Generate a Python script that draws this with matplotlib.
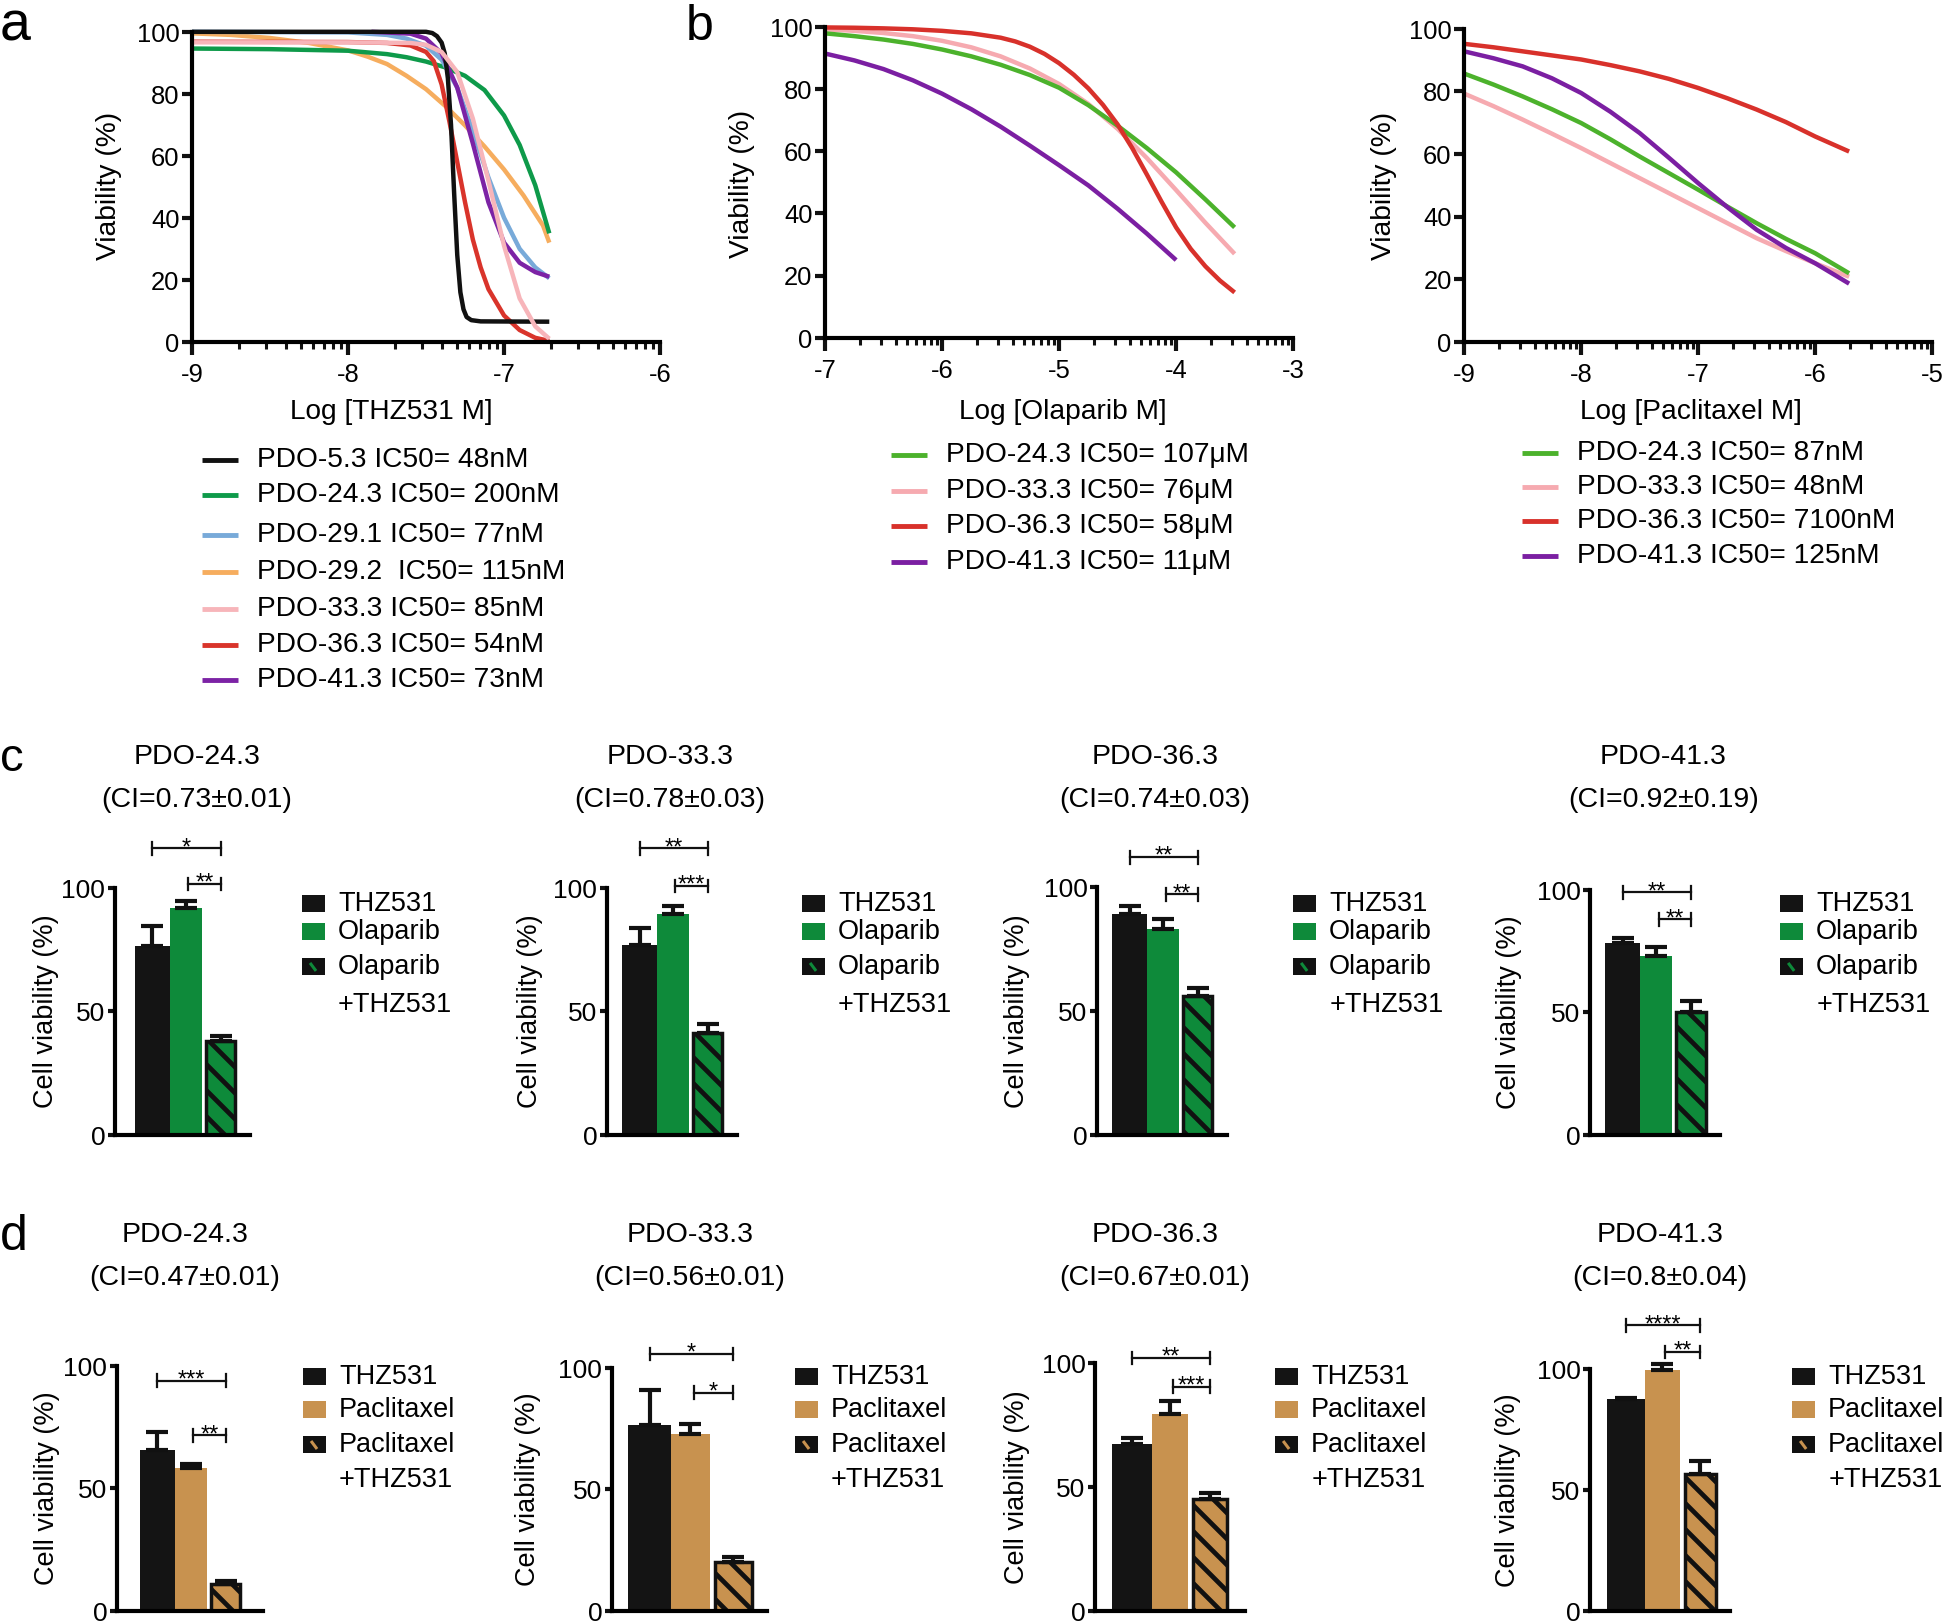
import matplotlib
matplotlib.use('Agg')
import matplotlib.pyplot as plt
from matplotlib.patches import Rectangle
import numpy as np

plt.rcParams['font.family'] = ['Liberation Sans', 'DejaVu Sans']

W, H = 1945, 1624
DPI = 78            # low dpi so the '\\' hatch gets a ~13 px stripe pitch
S = 100 / DPI       # sizes below are written for 100 dpi, scaled here
plt.rcParams['hatch.linewidth'] = 3.4 * S

# ---------- a: THZ531 dose-response (log M vs viability %) ----------
thz_labels = ['PDO-5.3 IC50= 48nM', 'PDO-24.3 IC50= 200nM', 'PDO-29.1 IC50= 77nM',
              'PDO-29.2  IC50= 115nM', 'PDO-33.3 IC50= 85nM', 'PDO-36.3 IC50= 54nM',
              'PDO-41.3 IC50= 73nM']
thz_colors = ['#111111', '#0e9a4a', '#78aad9', '#f6ad5e', '#f7b5ba', '#d9342b', '#7c23a5']
thz_x = [
    [-9, -7.5, -7.46, -7.43, -7.4, -7.38, -7.36, -7.34, -7.32, -7.3, -7.28, -7.26, -7.24, -7.21, -7.15, -6.71],
    [-9, -8.5, -8, -7.75, -7.625, -7.5, -7.375, -7.25, -7.125, -7.0, -6.9, -6.8, -6.71],
    [-9, -8, -7.75, -7.625, -7.5, -7.4, -7.3, -7.2, -7.1, -7.0, -6.9, -6.8, -6.71],
    [-9, -8.75, -8.5, -8.25, -8, -7.875, -7.75, -7.625, -7.5, -7.375, -7.25, -7.125, -7.0, -6.875, -6.75, -6.71],
    [-9, -8, -7.6, -7.5, -7.4, -7.3, -7.2, -7.1, -7.0, -6.9, -6.8, -6.71],
    [-9, -8, -7.75, -7.6, -7.5, -7.45, -7.4, -7.35, -7.3, -7.25, -7.2, -7.15, -7.1, -7.0, -6.9, -6.8, -6.71],
    [-7.85, -7.6, -7.5, -7.4, -7.3, -7.2, -7.1, -7.0, -6.9, -6.8, -6.71],
]
thz_y = [
    [100, 100, 99.6, 98.6, 96.5, 93, 85, 70, 48, 28, 16, 10.5, 8, 7, 6.6, 6.5],
    [94.6, 94.4, 93.9, 92.8, 91.8, 90.4, 88.5, 85.8, 81.2, 73.0, 63.5, 50.5, 35],
    [100, 99.8, 99, 97.8, 95.5, 91, 82, 68, 53, 40, 30, 24, 20.5],
    [99.5, 99.0, 98.0, 96.4, 94.0, 92.0, 89.6, 85.8, 81.5, 76.0, 69.8, 63.0, 55.6, 47.2, 37.5, 32],
    [96.6, 96.6, 96.4, 95.8, 93.5, 87, 72, 52, 31, 14, 5, 1],
    [96.8, 96.7, 96.4, 95.6, 93.5, 90.5, 83, 71, 58, 45, 33, 24, 17, 8.5, 3.8, 1.3, 0.3],
    [100, 99.4, 97.8, 93, 82, 64, 45, 32, 25.5, 22.5, 21],
]
thz_order = [3, 1, 2, 6, 5, 0, 4]

# ---------- b: Olaparib ----------
ola_labels = ['PDO-24.3 IC50= 107μM', 'PDO-33.3 IC50= 76μM', 'PDO-36.3 IC50= 58μM',
              'PDO-41.3 IC50= 11μM']
ola_colors = ['#4cb22c', '#f6aab0', '#d8312b', '#7b1fa2']
ola_grid = [-7, -6.75, -6.5, -6.25, -6, -5.75, -5.5, -5.25, -5, -4.75, -4.5, -4.25, -4, -3.75, -3.5]
ola_red_x = [-7, -6.75, -6.5, -6.25, -6, -5.75, -5.5, -5.375, -5.25, -5.125, -5, -4.875,
             -4.75, -4.625, -4.5, -4.375, -4.25, -4.125, -4, -3.875, -3.75, -3.625, -3.5]
ola_x = [ola_grid, ola_grid, ola_red_x, ola_grid[:13]]
ola_y = [
    [97.9, 97.0, 95.9, 94.5, 92.7, 90.5, 87.8, 84.5, 80.4, 74.8, 68.2, 61.0, 53.2, 44.5, 35.5],
    [99.2, 98.7, 98.0, 97.0, 95.5, 93.4, 90.5, 86.6, 81.6, 75.2, 67.2, 57.8, 47.5, 37.0, 27.0],
    [99.8, 99.7, 99.5, 99.2, 98.7, 97.9, 96.5, 95.3, 93.6, 91.3, 88.3, 84.6, 80.2, 74.9,
     68.6, 61.0, 52.5, 43.8, 35.5, 28.6, 23.0, 18.4, 14.6],
    [91.4, 89.2, 86.4, 82.8, 78.5, 73.5, 67.9, 61.8, 55.5, 49.0, 41.5, 33.5, 25.0],
]

# ---------- b: Paclitaxel ----------
pac_labels = ['PDO-24.3 IC50= 87nM', 'PDO-33.3 IC50= 48nM', 'PDO-36.3 IC50= 7100nM',
              'PDO-41.3 IC50= 125nM']
pac_colors = ['#4cb22c', '#f6aab0', '#d8312b', '#7b1fa2']
pac_grid = [-9, -8.75, -8.5, -8.25, -8, -7.75, -7.5, -7.25, -7, -6.75, -6.5, -6.25, -6, -5.71]
pac_x = [pac_grid] * 4
pac_y = [
    [85.7, 82.2, 78.4, 74.3, 69.9, 64.7, 59.2, 53.9, 48.6, 43.2, 37.9, 32.9, 28.3, 21.9],
    [79.3, 75.3, 71, 66.5, 61.9, 57.1, 52.3, 47.5, 42.7, 37.9, 33.1, 29, 25.1, 20.8],
    [95.2, 94.1, 92.8, 91.5, 90.2, 88.4, 86.4, 84, 81.1, 77.8, 74.2, 70.2, 65.6, 60.8],
    [92.8, 90.6, 88, 84.2, 79.5, 73.5, 66.7, 58.8, 50.7, 43, 35.8, 30, 25.1, 18.6],
]

# ---------- c / d: combination bars ----------
pdo_names = ['PDO-24.3', 'PDO-33.3', 'PDO-36.3', 'PDO-41.3']
c_ci = ['(CI=0.73±0.01)', '(CI=0.78±0.03)', '(CI=0.74±0.03)', '(CI=0.92±0.19)']
c_mean = [[76.5, 91.9, 38.1], [76.9, 89.5, 41.3], [89.1, 83.1, 56.0], [78.4, 73.1, 50.2]]
c_err = [[8.1, 2.8, 1.9], [6.9, 3.2, 3.6], [3.2, 4.0, 3.3], [2.0, 3.6, 4.5]]
c_sig_long = ['*', '**', '**', '**']
c_sig_long_y = [116, 116, 112, 99]
c_sig_short = ['**', '***', '**', '**']
c_sig_short_y = [101.6, 100.8, 97, 88]
c_groups = ['THZ531', 'Olaparib', 'Olaparib', '+THZ531']

d_ci = ['(CI=0.47±0.01)', '(CI=0.56±0.01)', '(CI=0.67±0.01)', '(CI=0.8±0.04)']
d_mean = [[65.6, 58.3, 10.9], [76.7, 72.7, 20.0], [67.2, 79.6, 45.2], [87.7, 99.6, 56.6]]
d_err = [[7.3, 1.6, 1.2], [14.3, 4.4, 2.4], [2.4, 5.2, 2.4], [0.3, 2.4, 5.4]]
d_sig_long = ['***', '*', '**', '****']
d_sig_long_y = [94, 105.7, 102, 118]
d_sig_short = ['**', '*', '***', '**']
d_sig_short_y = [71.7, 89.8, 90.4, 107]
d_groups = ['THZ531', 'Paclitaxel', 'Paclitaxel', '+THZ531']

green_bar = '#0e8a3a'
tan_bar = '#c8924f'
black_bar = '#141414'

fig = plt.figure(figsize=((W + 0.2) / DPI, (H + 0.2) / DPI), dpi=DPI)


def add_ax(l, t, r, b):
    return fig.add_axes([l / W, 1 - b / H, (r - l) / W, (b - t) / H])


def ftext(x, y, s, size, **kw):
    fig.text(x / W, 1 - y / H, s, fontsize=size * S, **kw)


def fline(x0, y0, x1, y1, color, lw):
    fig.add_artist(plt.Line2D([x0 / W, x1 / W], [1 - y0 / H, 1 - y1 / H], color=color,
                              lw=lw * S, transform=fig.transFigure, solid_capstyle='butt'))


def base_style(ax, labelsize=18.5):
    for s in ['top', 'right']:
        ax.spines[s].set_visible(False)
    for s in ['left', 'bottom']:
        ax.spines[s].set_linewidth(3 * S)
        ax.spines[s].set_capstyle('projecting')
    ax.tick_params(which='major', length=7 * S, width=3 * S, labelsize=labelsize * S,
                   pad=2 * S, color='#111111')
    ax.tick_params(which='minor', length=5 * S, width=2.2 * S, color='#111111')


def curve_panel(frame, xlo, xhi, xs, ys, colors, labels, xlabel, xlab_pos, ylab_pos,
                leg_x, leg_rows, order):
    ax = add_ax(*frame)
    base_style(ax)
    for i in order:
        ax.plot(xs[i], ys[i], color=colors[i], lw=3.2 * S, clip_on=False,
                solid_capstyle='butt', solid_joinstyle='round')
    ax.set_xlim(xlo, xhi)
    ax.set_ylim(0, 100)
    ax.set_xticks(range(xlo, xhi + 1))
    ax.set_xticklabels([str(v) for v in range(xlo, xhi + 1)])
    minors = [d + np.log10(k) for d in range(xlo, xhi) for k in range(2, 10)]
    ax.set_xticks(minors, minor=True)
    ax.set_yticks(range(0, 101, 20))
    ax.tick_params(axis='x', which='major', length=9 * S, pad=6 * S)
    ftext(xlab_pos[0], xlab_pos[1], xlabel, 20.3, ha='center', va='center')
    ftext(ylab_pos[0], ylab_pos[1], 'Viability (%)', 20.3, ha='center', va='center',
          rotation=90)
    for i, (lab, yy) in enumerate(zip(labels, leg_rows)):
        fline(leg_x, yy, leg_x + 36, yy, colors[i], 3.5)
        ftext(leg_x + 55, yy, lab, 20.3, ha='left', va='center')
    return ax


# panel a
curve_panel((192, 32, 660, 342), -9, -6, thz_x, thz_y, thz_colors, thz_labels,
            'Log [THZ531 M]', (391, 412), (109, 186), 202,
            [460, 495, 535, 572, 609, 645, 680], thz_order)
# panel b (olaparib / paclitaxel)
curve_panel((825, 27, 1293, 338), -7, -3, ola_x, ola_y, ola_colors, ola_labels,
            'Log [Olaparib M]', (1063, 412), (742, 184), 891, [455, 491, 526, 562],
            [1, 0, 3, 2])
curve_panel((1464, 29, 1932, 342), -9, -5, pac_x, pac_y, pac_colors, pac_labels,
            'Log [Paclitaxel M]', (1691, 412), (1384, 186), 1522, [453, 487, 521, 556],
            [1, 0, 3, 2])


def bar_panel(frame, xlim, means, errs, color, sig_long, sy_long, sig_short, sy_short,
              title, ci, title_x, title_rows, ylab_x, leg_x, leg_rows, groups):
    ax = add_ax(*frame)
    base_style(ax, labelsize=19)
    ax.tick_params(which='major', length=5 * S)
    pos = [0, 1.0, 2.05]
    widths = [1.05, 0.95, 0.88]
    ax.bar(pos[0], means[0], width=widths[0], color=black_bar, zorder=2)
    ax.bar(pos[1], means[1], width=widths[1], color=color, zorder=2)
    ax.bar(pos[2], means[2], width=widths[2], color=color, edgecolor='#111111',
           linewidth=2.5 * S, hatch='\\', zorder=2)
    ax.errorbar(pos, means, yerr=[[0, 0, 0], errs], fmt='none', ecolor='#111111',
                elinewidth=3 * S, capsize=8 * S, capthick=3 * S, zorder=3, clip_on=False)
    ax.set_xlim(*xlim)
    ax.set_ylim(0, 100)
    ax.set_xticks([])
    ax.set_yticks([0, 50, 100])
    for (x1, x2, y, s) in [(pos[0], pos[2], sy_long, sig_long),
                           (pos[1] + 0.08, pos[2], sy_short, sig_short)]:
        ax.plot([x1, x2], [y, y], color='#111111', lw=1.6 * S, clip_on=False)
        for xx in (x1, x2):
            ax.plot([xx, xx], [y - 2.6, y + 2.6], color='#111111', lw=1.6 * S, clip_on=False)
        ax.annotate(s, xy=((x1 + x2) / 2, y), xytext=(0, -4 * S), textcoords='offset points',
                    ha='center', va='baseline', fontsize=17 * S, annotation_clip=False)
    ftext(title_x, title_rows[0], title, 20.5, ha='center', va='center')
    ftext(title_x, title_rows[1], ci, 20.5, ha='center', va='center')
    mid_y = (frame[1] + frame[3]) / 2
    ftext(ylab_x, mid_y, 'Cell viability (%)', 19.5, ha='center', va='center', rotation=90)
    # legend swatches
    sw, sh = 23, 17
    fills = [black_bar, color, '#111111']
    for i in range(3):
        yy = leg_rows[i]
        fig.add_artist(Rectangle((leg_x / W, 1 - (yy + sh / 2) / H), sw / W, sh / H,
                                 transform=fig.transFigure, facecolor=fills[i],
                                 edgecolor='none'))
    yy = leg_rows[2]
    fline(leg_x + 8, yy - 4, leg_x + 14, yy + 4, color, 2.2)
    for lab, yy in zip(groups, leg_rows):
        ftext(leg_x + 36, yy, lab, 19.5, ha='left', va='center')


c_frames = [(115, 888, 250, 1135), (607, 888, 737, 1135), (1097, 887, 1227, 1135),
            (1590, 890, 1720, 1135)]
c_xlims = [(-1.125, 2.93), (-0.975, 2.93), (-0.975, 2.93), (-0.975, 2.93)]
c_title_x = [197, 670, 1155, 1663]
c_ylab_x = [46, 530, 1017, 1509]
c_leg_x = [302, 802, 1293, 1780]
for k in range(4):
    bar_panel(c_frames[k], c_xlims[k], c_mean[k], c_err[k], green_bar,
              c_sig_long[k], c_sig_long_y[k], c_sig_short[k], c_sig_short_y[k],
              pdo_names[k], c_ci[k], c_title_x[k], (757, 800), c_ylab_x[k],
              c_leg_x[k], [904, 932, 967, 1005], c_groups)

d_frames = [(117, 1366, 263, 1611), (612, 1368, 767, 1611), (1095, 1363, 1245, 1611),
            (1590, 1369, 1730, 1611)]
d_xlims = [(-1.215, 3.17), (-0.915, 2.87), (-0.97, 2.98), (-0.995, 2.87)]
d_title_x = [185, 690, 1155, 1660]
d_ylab_x = [47, 528, 1017, 1508]
d_leg_x = [303, 795, 1275, 1792]
for k in range(4):
    bar_panel(d_frames[k], d_xlims[k], d_mean[k], d_err[k], tan_bar,
              d_sig_long[k], d_sig_long_y[k], d_sig_short[k], d_sig_short_y[k],
              pdo_names[k], d_ci[k], d_title_x[k], (1235, 1278), d_ylab_x[k],
              d_leg_x[k], [1377, 1410, 1445, 1480], d_groups)

# panel letters
ftext(0, 40, 'a', 40, ha='left', va='baseline')
ftext(686, 40, 'b', 36, ha='left', va='baseline')
ftext(0, 771, 'c', 34, ha='left', va='baseline')
ftext(0, 1250, 'd', 36, ha='left', va='baseline')

fig.savefig('out.png', dpi=DPI, facecolor='white')
